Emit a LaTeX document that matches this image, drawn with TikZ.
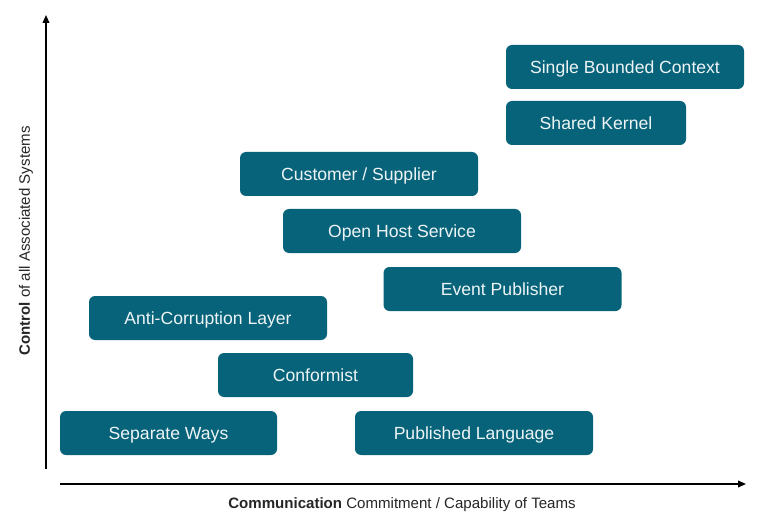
\documentclass[tikz,border=0pt]{standalone}
\usepackage{fontspec}
\setmainfont{Liberation Sans}
\usetikzlibrary{arrows.meta}
\definecolor{boxteal}{RGB}{7,99,121}
\tikzset{
  ctxbox/.style={fill=boxteal, text=white!93!boxteal, rounded corners=4.5pt,
    inner sep=0pt, minimum height=33pt, minimum width=#1, text height=9.4pt, text depth=0pt,
    font=\fontsize{13.2}{15}\selectfont},
  ctxbox/.default=178.5pt,
  axis/.style={line width=1.2pt, -{Triangle[length=6pt,width=5pt]}},
  axislabel/.style={font=\fontsize{11.3}{13}\selectfont, text=black!85, inner sep=0pt}
}
\begin{document}
\begin{tikzpicture}[x=0.75pt,y=-0.75pt]
\useasboundingbox (0,0) rectangle (764,524);
% axes
\coordinate (origin) at (46,469);
\coordinate (ytop) at (46,15);
\coordinate (xstart) at (60,484);
\coordinate (xend) at (746,484);
\draw[axis] (origin) -- (ytop);
\draw[axis] (xstart) -- (xend);
% integration patterns
\node[ctxbox] (single) at (625,67) {Single Bounded Context};
\node[ctxbox=135pt] (kernel) at (596,123) {Shared Kernel};
\node[ctxbox] (customer) at (359,174) {Customer / Supplier};
\node[ctxbox] (openhost) at (402,231) {Open Host Service};
\node[ctxbox] (event) at (502.5,289) {Event Publisher};
\node[ctxbox] (acl) at (208,318) {Anti-Corruption Layer};
\node[ctxbox=146.25pt] (conformist) at (315.5,375) {Conformist};
\node[ctxbox=162.75pt] (separate) at (168.5,433) {Separate Ways};
\node[ctxbox] (published) at (474,433) {Published Language};
% axis labels
\node[axislabel] (xlabel) at (402,505) {\textbf{Communication} Commitment / Capability of Teams};
\node[axislabel, rotate=90] (ylabel) at (26,241) {\textbf{Control} of all Associated Systems};
\end{tikzpicture}
\end{document}
